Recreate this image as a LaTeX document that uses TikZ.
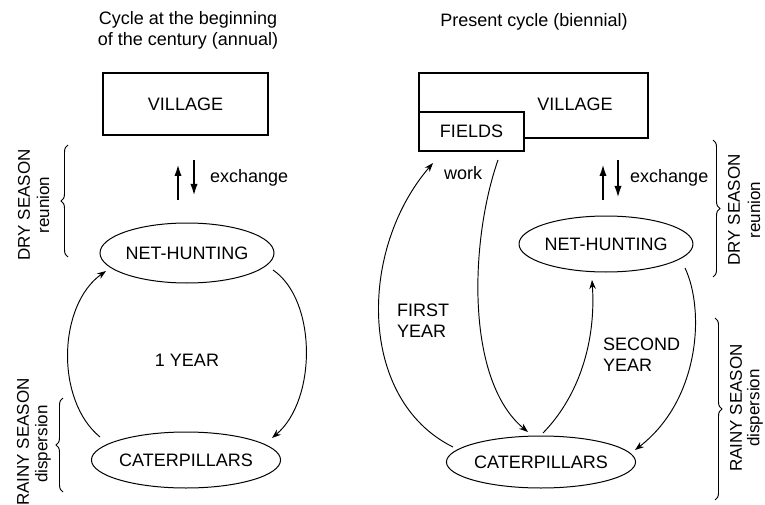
\documentclass[tikz,border=0pt]{standalone}
\usepackage{fontspec}
\setmainfont{Liberation Sans}
\usetikzlibrary{arrows.meta,decorations.pathreplacing,calc,shapes.geometric}
\begin{document}
\begin{tikzpicture}[x=1pt,y=-1pt,
  every node/.style={font=\fontsize{18}{21}\selectfont,inner sep=0pt},
  side/.style={rotate=90,font=\fontsize{17}{20}\selectfont},
  box/.style={draw,line width=1.1pt,outer sep=0pt},
  oval/.style={draw,ellipse,line width=1pt,outer sep=0pt},
  flow/.style={line width=0.95pt,-{Stealth[length=9pt,width=6.5pt]}},
  xarrow/.style={line width=2.8pt,-{Latex[length=14pt,width=7pt]}},
  bracedeco/.style={decorate,decoration={brace,amplitude=7pt},line width=0.95pt},
]
\useasboundingbox[fill=white] (0,0) rectangle (765,505);

% ---------- left panel ----------
\node[align=center] (t1) at (188,30) {Cycle at the beginning\\of the century (annual)};
\node[box,minimum width=165,minimum height=62] (vil1) at (185.5,104) {VILLAGE};
\node[oval,minimum width=174,minimum height=60] (nh1) at (187,253) {NET-HUNTING};
\node[oval,minimum width=184,minimum height=56] (cat1) at (186,460) {CATERPILLARS};
\node (yr1) at (187,360) {1 YEAR};
\node[anchor=west] (ex1) at (210,178) {exchange};

\draw[xarrow] ($(nh1.north)+(-9,-23)$) -- ($(nh1.north)+(-9,-61)$);
\draw[xarrow] ($(nh1.north)+(7,-63)$) -- ($(nh1.north)+(7,-25)$);

\draw[flow] ($(cat1.center)+(-86,-23)$) .. controls (55,400) and (58,305) .. ($(nh1.center)+(-81,18)$);
\draw[flow] ($(nh1.center)+(86,17)$) .. controls (317,300) and (317,400) .. ($(cat1.center)+(86,-22)$);

\node[side] (dry1) at (24,205) {DRY SEASON};
\node[side] (reu1) at (43,205) {reunion};
\draw[bracedeco] (68,257) -- (68,145);
\node[side] (rain1) at (23,442) {RAINY SEASON};
\node[side] (dis1) at (43,444) {dispersion};
\draw[bracedeco] (63,492) -- (63,398);

% ---------- right panel ----------
\node (t2) at (534,22) {Present cycle (biennial)};
\node[box,minimum width=229,minimum height=65] (vil2) at (533.5,105.5) {};
\node (vil2t) at (575,104) {VILLAGE};
\node[box,fill=white,minimum width=105,minimum height=39] (fields) at (471.5,131.5) {FIELDS};
\node[oval,minimum width=172,minimum height=56] (nh2) at (606,244) {NET-HUNTING};
\node[oval,minimum width=184,minimum height=52] (cat2) at (541,462) {CATERPILLARS};
\node[anchor=west] (ex2) at (630,178) {exchange};
\node (work) at (463,173) {work};
\node[anchor=west,align=left] (fy) at (397,321) {FIRST\\YEAR};
\node[anchor=west,align=left] (sy) at (603,355) {SECOND\\YEAR};

\draw[xarrow] ($(nh2.north)+(-3,-16)$) -- ($(nh2.north)+(-3,-54)$);
\draw[xarrow] ($(nh2.north)+(12,-56)$) -- ($(nh2.north)+(12,-16)$);

\draw[flow] ($(cat2.center)+(-88,-15)$) .. controls (358,400) and (358,250) .. ($(fields.south west)+(14,12)$);
\draw[flow] ($(fields.south west)+(79,9)$) .. controls (470,240) and (465,380) .. ($(cat2.center)+(-13,-30)$);
\draw[flow] ($(cat2.center)+(2,-29)$) .. controls (580,395) and (596,340) .. ($(nh2.center)+(-14,36)$);
\draw[flow] ($(nh2.center)+(79,24)$) .. controls (705,310) and (700,400) .. ($(cat2.center)+(94,-12)$);

\draw[bracedeco] (713,140) -- (713,277);
\node[side] (dry2) at (734,210) {DRY SEASON};
\node[side] (reu2) at (754,210) {reunion};
\draw[bracedeco] (715,318) -- (715,500);
\node[side] (rain2) at (736,408) {RAINY SEASON};
\node[side] (dis2) at (755,408) {dispersion};
\end{tikzpicture}
\end{document}
